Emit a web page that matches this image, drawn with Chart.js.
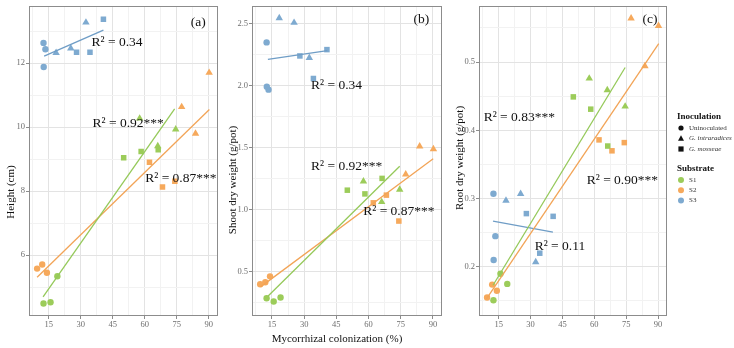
<!DOCTYPE html>
<html>
<head>
<meta charset="utf-8">
<script src="https://cdn.jsdelivr.net/npm/chart.js@4.4.0/dist/chart.umd.min.js"></script>
<style>
  body { margin: 0; background: #fff; width: 734px; height: 348px; position: relative; overflow: hidden; }
  canvas { position: absolute; top: 0; }
</style>
</head>
<body>
<canvas id="panelA" width="222" height="348" style="left:0;width:222px;height:348px"></canvas>
<canvas id="panelB" width="230" height="348" style="left:222px;width:230px;height:348px"></canvas>
<canvas id="panelC" width="282" height="348" style="left:452px;width:282px;height:348px"></canvas>
<script>
// groups: rows = Uninoculated, G. intraradices, G. mosseae
const substrates = ['S1', 'S2', 'S3'];
const inoculations = ['Uninoculated', 'G. intraradices', 'G. mosseae'];

// mycorrhizal colonization (%)
const colonS1 = [[12.5, 15.8, 19.0], [57.6, 66.1, 74.5], [50.1, 58.3, 66.3]];
const colonS2 = [[9.5, 11.9, 14.1], [77.3, 83.8, 90.2], [62.2, 68.3, 74.1]];
const colonS3 = [[12.5, 13.4, 12.6], [18.4, 25.3, 32.4], [28.0, 34.3, 40.6]];

// height (cm)
const heightS1 = [[4.49, 4.53, 5.34], [10.27, 9.41, 9.93], [9.04, 9.24, 9.29]];
const heightS2 = [[5.58, 5.71, 5.45], [10.63, 9.80, 11.70], [8.90, 8.13, 8.31]];
const heightS3 = [[12.63, 12.43, 11.88], [12.32, 12.46, 13.27], [12.34, 12.34, 13.37]];

// shoot dry weight (g/pot)
const shootS1 = [[0.283, 0.257, 0.289], [1.227, 1.06, 1.16], [1.155, 1.125, 1.25]];
const shootS2 = [[0.396, 0.412, 0.46], [1.283, 1.508, 1.487], [1.053, 1.115, 0.906]];
const shootS3 = [[2.347, 1.966, 1.99], [2.543, 2.506, 2.222], [2.238, 2.056, 2.289]];

// root dry weight (g/pot)
const rootS1 = [[0.151, 0.190, 0.175], [0.476, 0.459, 0.435], [0.449, 0.431, 0.377]];
const rootS2 = [[0.155, 0.174, 0.165], [0.564, 0.494, 0.553], [0.386, 0.370, 0.382]];
const rootS3 = [[0.307, 0.245, 0.210], [0.297, 0.307, 0.207], [0.278, 0.220, 0.274]];

// fitted lines (S1, S2, S3)
const heightFitX = [[12.3, 74.0], [9.5, 90.3], [12.8, 40.6]];
const heightFitY = [[4.70, 10.57], [5.31, 10.55], [12.22, 13.03]];
const shootFitX = [[13.1, 74.5], [9.7, 90.1], [13.1, 40.8]];
const shootFitY = [[0.30, 1.348], [0.375, 1.409], [2.211, 2.281]];
const rootFitX = [[12.3, 74.5], [9.2, 90.3], [12.3, 40.5]];
const rootFitY = [[0.173, 0.492], [0.153, 0.527], [0.267, 0.251]];

// r squared text (S1, S2, S3)
const heightR2 = ['R\u00b2 = 0.92***', 'R\u00b2 = 0.87***', 'R\u00b2 = 0.34'];
const shootR2 = ['R\u00b2 = 0.92***', 'R\u00b2 = 0.87***', 'R\u00b2 = 0.34'];
const rootR2 = ['R\u00b2 = 0.83***', 'R\u00b2 = 0.90***', 'R\u00b2 = 0.11'];

// ticks
const colonTicks = [7.5, 15, 22.5, 30, 37.5, 45, 52.5, 60, 67.5, 75, 82.5, 90];
const colonLabels = [15, 30, 45, 60, 75, 90];
const heightTicks = [5, 6, 7, 8, 9, 10, 11, 12, 13];
const heightLabels = [6, 8, 10, 12];
const shootTicks = [0.25, 0.5, 0.75, 1.0, 1.25, 1.5, 1.75, 2.0, 2.25, 2.5];
const shootLabels = [0.5, 1.0, 1.5, 2.0, 2.5];
const rootTicks = [0.15, 0.2, 0.25, 0.3, 0.35, 0.4, 0.45, 0.5, 0.55];
const rootLabels = [0.2, 0.3, 0.4, 0.5];

const pointColors = ['#9ccc5a', '#f6a95c', '#7eaad0'];
const lineColors = ['#95c95a', '#f2a457', '#6f9dc6'];
const shapes = ['circle', 'triangle', 'rect'];
const radii = [3.2, 4.3, 3.9];
const serif = '"Liberation Serif", "Times New Roman", serif';

Chart.defaults.font.family = serif;

const decor = {
  id: 'decor',
  afterDraw(chart, args, opts) {
    const ctx = chart.ctx, a = chart.chartArea;
    const xs = chart.scales.x, ys = chart.scales.y;
    ctx.save();
    ctx.strokeStyle = '#8c8c8c';
    ctx.lineWidth = 1;
    ctx.strokeRect(Math.round(a.left) + 0.5, Math.round(a.top) + 0.5,
      Math.round(a.right - a.left) - 1, Math.round(a.bottom - a.top) - 1);

    ctx.fillStyle = '#111';
    ctx.textBaseline = 'middle';
    ctx.textAlign = 'left';
    ctx.font = '13.5px ' + serif;
    opts.notes.forEach(n => {
      ctx.fillText(n.text, xs.getPixelForValue(n.x), ys.getPixelForValue(n.y));
    });

    // y title
    ctx.save();
    ctx.translate(opts.yTitleAt[0], opts.yTitleAt[1]);
    ctx.rotate(-Math.PI / 2);
    ctx.textAlign = 'center';
    ctx.font = '11px ' + serif;
    ctx.fillText(opts.yTitle, 0, 0);
    ctx.restore();

    if (opts.xTitle) {
      ctx.textAlign = 'center';
      ctx.font = '11px ' + serif;
      ctx.fillText(opts.xTitle, opts.xTitleAt[0], opts.xTitleAt[1]);
    }

    if (opts.legendAt) {
      const lx = opts.legendAt[0], ly = opts.legendAt[1];
      ctx.textAlign = 'left';
      ctx.font = 'bold 9px ' + serif;
      ctx.fillText('Inoculation', lx, ly);
      ctx.fillText('Substrate', lx, ly + 52);
      inoculations.forEach((name, k) => {
        const y = ly + 11 + k * 10.5, x = lx + 4;
        ctx.fillStyle = '#111';
        ctx.beginPath();
        if (k === 0) ctx.arc(x, y, 2.6, 0, Math.PI * 2);
        else if (k === 1) { ctx.moveTo(x, y - 3.2); ctx.lineTo(x + 3, y + 2.2); ctx.lineTo(x - 3, y + 2.2); ctx.closePath(); }
        else ctx.rect(x - 2.6, y - 2.6, 5.2, 5.2);
        ctx.fill();
        ctx.font = (k === 0 ? '' : 'italic ') + '7px ' + serif;
        ctx.fillStyle = '#333';
        ctx.fillText(name, lx + 12, y);
      });
      substrates.forEach((name, s) => {
        const y = ly + 63 + s * 10.3, x = lx + 4;
        ctx.fillStyle = pointColors[s];
        ctx.beginPath();
        ctx.arc(x, y, 3, 0, Math.PI * 2);
        ctx.fill();
        ctx.fillStyle = '#333';
        ctx.font = '7px ' + serif;
        ctx.fillText(name, lx + 12, y);
      });
    }
    ctx.restore();
  }
};

function buildDatasets(colon, vals, fitX, fitY) {
  const sets = [];
  for (let s = 0; s < 3; s++) {
    sets.push({
      data: [{ x: fitX[s][0], y: fitY[s][0] }, { x: fitX[s][1], y: fitY[s][1] }],
      showLine: true,
      borderColor: lineColors[s],
      borderWidth: 1.3,
      pointRadius: 0
    });
  }
  for (let s = 0; s < 3; s++) {
    for (let k = 0; k < 3; k++) {
      sets.push({
        data: colon[s][k].map((x, i) => ({ x: x, y: vals[s][k][i] })),
        pointStyle: shapes[k],
        pointRadius: radii[k],
        pointBackgroundColor: pointColors[s],
        pointBorderWidth: 0,
        showLine: false
      });
    }
  }
  return sets;
}

function makePanel(id, cfg) {
  const majorGrid = '#e3e3e3', minorGrid = '#f2f2f2';
  return new Chart(document.getElementById(id), {
    type: 'scatter',
    data: { datasets: buildDatasets([colonS1, colonS2, colonS3], cfg.vals, cfg.fitX, cfg.fitY) },
    options: {
      responsive: false,
      animation: false,
      layout: { padding: { left: 0, top: 5, right: cfg.padRight, bottom: 0 } },
      plugins: { legend: { display: false }, tooltip: { enabled: false }, decor: cfg.decor },
      scales: {
        x: {
          type: 'linear', min: 5.7, max: 94.2,
          afterBuildTicks: sc => { sc.ticks = colonTicks.map(v => ({ value: v })); },
          afterFit: sc => { sc.height = 32; },
          border: { display: false },
          grid: {
            color: c => colonLabels.includes(c.tick.value) ? majorGrid : minorGrid,
            tickColor: c => colonLabels.includes(c.tick.value) ? '#8c8c8c' : 'rgba(0,0,0,0)',
            tickLength: 3
          },
          ticks: {
            autoSkip: false, maxRotation: 0, padding: 1, color: '#6e6e6e',
            font: { size: 8.5 },
            callback: v => colonLabels.includes(v) ? String(v) : ''
          }
        },
        y: {
          type: 'linear', min: cfg.yMin, max: cfg.yMax,
          afterBuildTicks: sc => { sc.ticks = cfg.yTicks.map(v => ({ value: v })); },
          afterFit: sc => { sc.width = cfg.yWidth; },
          border: { display: false },
          grid: {
            color: c => cfg.yLabels.includes(c.tick.value) ? majorGrid : minorGrid,
            tickColor: c => cfg.yLabels.includes(c.tick.value) ? '#8c8c8c' : 'rgba(0,0,0,0)',
            tickLength: 3
          },
          ticks: {
            autoSkip: false, padding: 1, color: '#6e6e6e',
            font: { size: 8.5 },
            callback: v => cfg.yLabels.includes(v) ? cfg.fmt(v) : ''
          }
        }
      }
    },
    plugins: [decor]
  });
}

makePanel('panelA', {
  vals: [heightS1, heightS2, heightS3], fitX: heightFitX, fitY: heightFitY,
  yMin: 4.1, yMax: 13.78, yTicks: heightTicks, yLabels: heightLabels, fmt: v => String(v),
  yWidth: 29, padRight: 3,
  decor: {
    yTitle: 'Height (cm)', yTitleAt: [11, 192],
    notes: [
      { text: heightR2[2], x: 35.0, y: 12.63 },
      { text: heightR2[0], x: 35.5, y: 10.12 },
      { text: heightR2[1], x: 60.2, y: 8.41 },
      { text: '(a)', x: 81.6, y: 13.28 }
    ]
  }
});

makePanel('panelB', {
  vals: [shootS1, shootS2, shootS3], fitX: shootFitX, fitY: shootFitY,
  yMin: 0.14, yMax: 2.64, yTicks: shootTicks, yLabels: shootLabels, fmt: v => v.toFixed(1),
  yWidth: 30, padRight: 10,
  decor: {
    yTitle: 'Shoot dry weight (g/pot)', yTitleAt: [11, 180],
    xTitle: 'Mycorrhizal colonization (%)', xTitleAt: [115, 339],
    notes: [
      { text: shootR2[2], x: 33.2, y: 2.0 },
      { text: shootR2[0], x: 33.2, y: 1.35 },
      { text: shootR2[1], x: 57.5, y: 0.986 },
      { text: '(b)', x: 80.9, y: 2.53 }
    ]
  }
});

makePanel('panelC', {
  vals: [rootS1, rootS2, rootS3], fitX: rootFitX, fitY: rootFitY,
  yMin: 0.128, yMax: 0.582, yTicks: rootTicks, yLabels: rootLabels, fmt: v => v.toFixed(1),
  yWidth: 27, padRight: 67,
  decor: {
    yTitle: 'Root dry weight (g/pot)', yTitleAt: [8, 158],
    legendAt: [225, 117],
    notes: [
      { text: rootR2[0], x: 7.9, y: 0.4185 },
      { text: rootR2[1], x: 56.4, y: 0.3266 },
      { text: rootR2[2], x: 31.9, y: 0.230 },
      { text: '(c)', x: 82.7, y: 0.562 }
    ]
  }
});
</script>
</body>
</html>
